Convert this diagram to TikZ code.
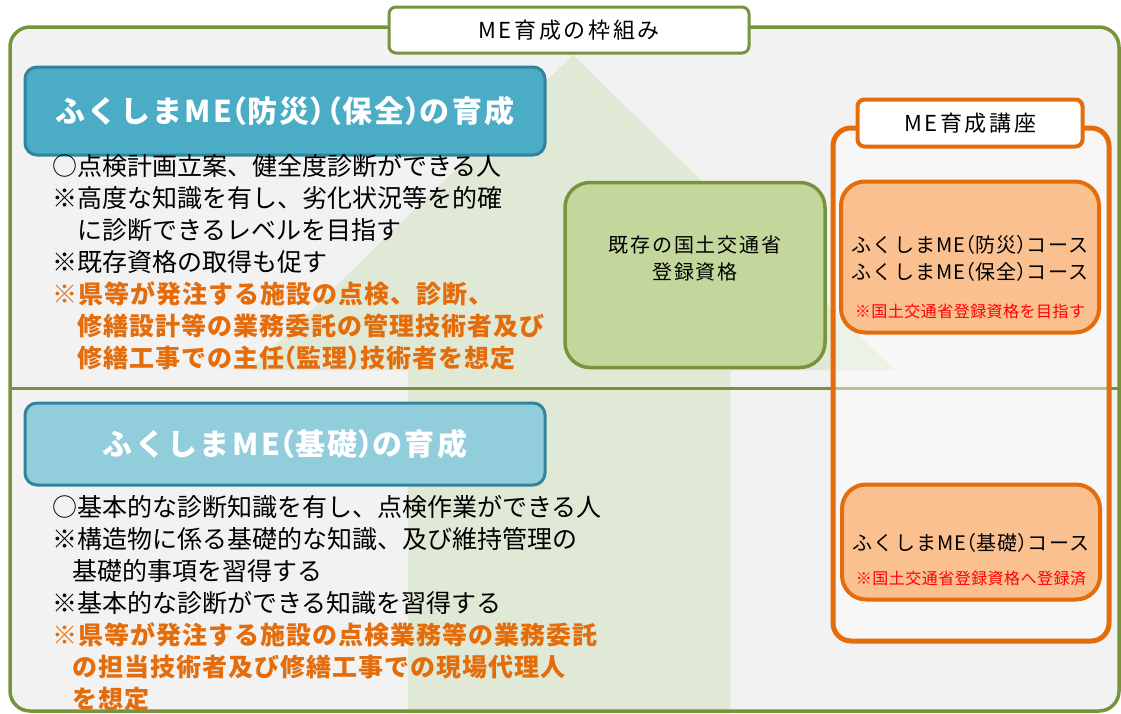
\documentclass[tikz,border=0pt]{standalone}
\usepackage{fontspec}
\setmainfont{Noto Sans CJK JP}
\setsansfont{Noto Sans CJK JP}
\definecolor{frameGreen}{HTML}{77933C}
\definecolor{paleGray}{HTML}{F2F2F2}
\definecolor{arrowGreen}{HTML}{E0E9D5}
\definecolor{blueEdge}{HTML}{31849B}
\definecolor{blueDark}{HTML}{4BACC6}
\definecolor{blueLight}{HTML}{92CDDC}
\definecolor{accentOrange}{HTML}{E46C0A}
\definecolor{courseFill}{HTML}{FAC090}
\definecolor{mlitFill}{HTML}{C3D69B}
\definecolor{noteRed}{HTML}{FF0000}
\newcommand{\hwp}[1]{{\addfontfeature{RawFeature=+halt}#1}}
\newcommand{\hot}[1]{{\color{accentOrange}\bfseries\addfontfeature{LetterSpace=4}#1}}
\begin{document}
\begin{tikzpicture}[x=1pt,y=-1pt,
    headbox/.style={draw=blueEdge,line width=3pt,rounded corners=12pt,text=white,
      minimum width=520pt,font=\fontsize{30}{36}\selectfont\bfseries\addfontfeature{LetterSpace=8}},
    bodytext/.style={anchor=north west,inner sep=0pt,align=left,
      font=\fontsize{25}{32}\selectfont},
    tagbox/.style={draw,fill=white,rounded corners=7pt,
      font=\fontsize{22}{26}\selectfont\addfontfeature{LetterSpace=12}},
    coursebox/.style={draw=accentOrange,fill=courseFill,line width=4pt,rounded corners=24pt,
      minimum width=258pt},
    coursetext/.style={align=center,inner sep=0pt,
      font=\fontsize{20}{27}\selectfont\addfontfeature{LetterSpace=6}},
    notetext/.style={inner sep=0pt,text=noteRed,
      font=\fontsize{16}{20}\selectfont\addfontfeature{LetterSpace=3}}]
\useasboundingbox (0,0) rectangle (1121,713);
% frame and arrow
\fill[paleGray,rounded corners=20pt] (10,27) rectangle (1119,711);
\fill[arrowGreen] (408,713) -- (408,370) -- (250,370) -- (573,55) -- (895,370)
  -- (730,370) -- (730,713) -- cycle;
\draw[frameGreen,line width=3pt] (10,388) -- (1121,388);
\draw[frameGreen,line width=3.5pt,rounded corners=20pt] (10,27) rectangle (1119,711);
\node[tagbox,draw=frameGreen,line width=3pt,minimum width=360pt,minimum height=46pt]
  (frame) at (569,30) {ME育成の枠組み};

% upper level
\node[headbox,fill=blueDark,minimum height=88pt] (bosai) at (285,111)
  {ふくしまME\hwp{（}防災\hwp{）（}保全\hwp{）}の育成};
\node[bodytext] (bosaitext) at (52,154) {○点検計画立案、健全度診断ができる人\\
  ※高度な知識を有し、劣化状況等を的確\\
  \hspace*{1em}に診断できるレベルを目指す\\
  ※既存資格の取得も促す\\
  \hot{※県等が発注する施設の点検、診断、}\\
  \hot{\hspace*{1em}修繕設計等の業務委託の管理技術者及び}\\
  \hot{\hspace*{1em}修繕工事での主任\hwp{（}監理\hwp{）}技術者を想定}};

% lower level
\node[headbox,fill=blueLight,minimum height=82pt] (kiso) at (285,444)
  {ふくしまME\hwp{（}基礎\hwp{）}の育成};
\node[bodytext] (kisotext) at (52,495) {○基本的な診断知識を有し、点検作業ができる人\\
  ※構造物に係る基礎的な知識、及び維持管理の\\
  \hspace*{0.8em}基礎的事項を習得する\\
  ※基本的な診断ができる知識を習得する\\
  \hot{※県等が発注する施設の点検業務等の業務委託}\\
  \hot{\hspace*{0.8em}の担当技術者及び修繕工事での現場代理人}\\
  \hot{\hspace*{0.8em}を想定}};

% existing qualification
\node[draw=frameGreen,fill=mlitFill,line width=3.5pt,rounded corners=25pt,
  minimum width=260pt,minimum height=185pt] (mlit) at (695,275) {};
\node[coursetext,font=\fontsize{20}{27}\selectfont\addfontfeature{LetterSpace=9}]
  (mlittext) at (695,258) {既存の国土交通省\\登録資格};

% courses
\draw[accentOrange,line width=5pt,rounded corners=18pt,fill=white,fill opacity=0.45]
  (833,128) rectangle (1109,641);
\node[tagbox,draw=accentOrange,line width=4pt,minimum width=225pt,minimum height=47pt]
  (course) at (970,123) {ME育成講座};
\node[coursebox,minimum height=151pt] (advanced) at (970,257) {};
\node[coursetext] (advancedtext) at (970,258)
  {ふくしまME\hwp{（}防災\hwp{）}コース\\ふくしまME\hwp{（}保全\hwp{）}コース};
\node[notetext] (advancednote) at (970,311) {※国土交通省登録資格を目指す};
\node[coursebox,minimum height=115pt] (basic) at (971,542) {};
\node[coursetext] (basictext) at (971,543) {ふくしまME\hwp{（}基礎\hwp{）}コース};
\node[notetext] (basicnote) at (971,578) {※国土交通省登録資格へ登録済};
\end{tikzpicture}
\end{document}
